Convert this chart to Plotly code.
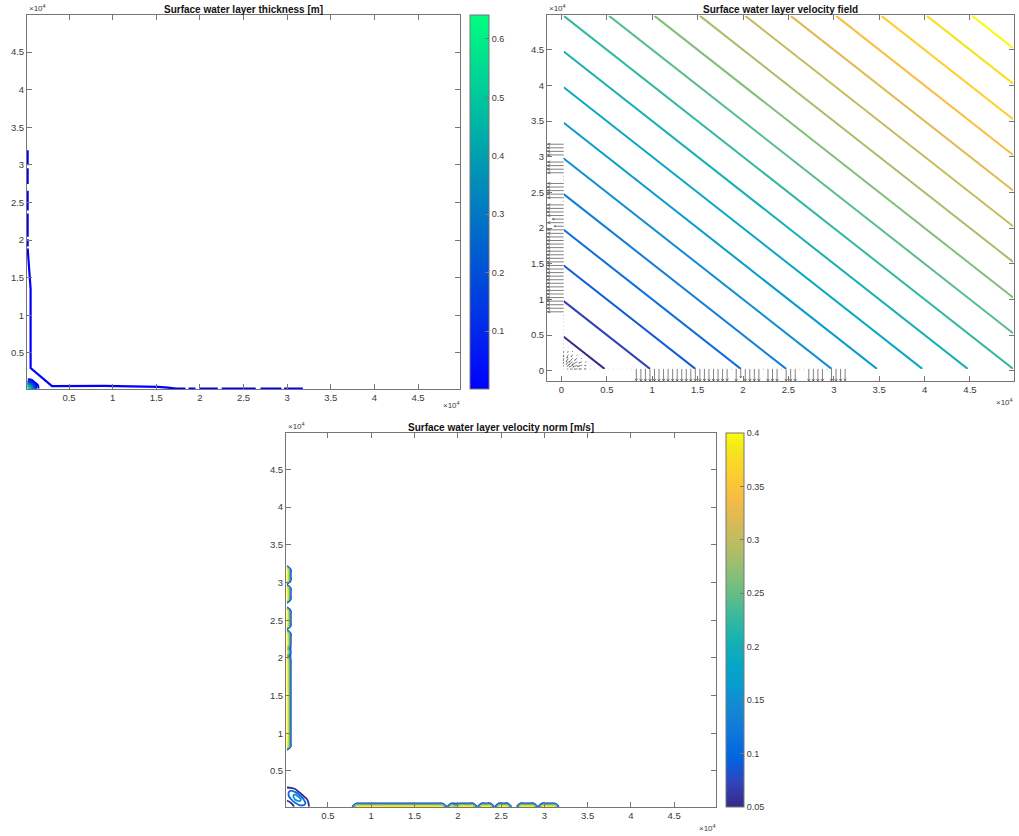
import numpy as np
import plotly.graph_objects as go
import plotly.figure_factory as ff
from plotly.colors import sample_colorscale

W, H = 1019, 836

# ---------------------------------------------------------------- data ----
# cell centres along the two outflow edges (m), starting past the corner block
edge_pos = list(range(3750, 33251, 500))

# outflow speed in the first column of cells (x = 250 m), m/s
left_speed = [0.01, 0.01, 0.01, 0.01, 0.01, 0.01, 0.01, 0.01, 0.015,
              0.43, 0.44, 0.44, 0.44, 0.45, 0.44, 0.44, 0.44, 0.44, 0.44,
              0.44, 0.44, 0.44, 0.44, 0.44, 0.44, 0.44, 0.43, 0.44, 0.44,
              0.44, 0.44, 0.43, 0.43,
              0.25, 0.43, 0.30, 0.43, 0.44, 0.44, 0.43, 0.02,
              0.43, 0.44, 0.44, 0.44, 0.43, 0.015, 0.015,
              0.43, 0.44, 0.44, 0.43, 0.02, 0.43, 0.44, 0.44, 0.43,
              0.0, 0.0, 0.0]

# outflow speed in the first row of cells (y = 250 m), m/s
bottom_speed = [0.01, 0.01, 0.01, 0.01, 0.01, 0.01, 0.01, 0.01, 0.015,
                0.40, 0.41, 0.41, 0.41, 0.41, 0.42, 0.41, 0.41, 0.41, 0.41,
                0.41, 0.41, 0.41, 0.41, 0.41, 0.41, 0.41, 0.41, 0.41, 0.41,
                0.40,
                0.02, 0.41, 0.30, 0.41, 0.41, 0.41, 0.41, 0.02,
                0.41, 0.41, 0.41, 0.02, 0.41, 0.41, 0.41, 0.015, 0.015,
                0.41, 0.41, 0.41, 0.41, 0.02, 0.41, 0.41, 0.41, 0.40,
                0.0, 0.0, 0.0, 0.0]

# speed in the outlet corner block (rows: y, columns: x), m/s
corner_pos = [250, 750, 1250, 1750, 2250, 2750, 3250]
corner_speed = [
    [0.01, 0.03, 0.06, 0.08, 0.08, 0.055, 0.01],
    [0.03, 0.05, 0.10, 0.13, 0.12, 0.05, 0.01],
    [0.06, 0.10, 0.16, 0.17, 0.09, 0.03, 0.0],
    [0.08, 0.13, 0.17, 0.10, 0.03, 0.0, 0.0],
    [0.08, 0.12, 0.09, 0.03, 0.0, 0.0, 0.0],
    [0.055, 0.05, 0.03, 0.0, 0.0, 0.0, 0.0],
    [0.01, 0.01, 0.0, 0.0, 0.0, 0.0, 0.0],
]

# ponded water depth at the outlet corner (m)
pond_pos = [250, 750, 1250, 1750]
pond_depth = [
    [0.64, 0.40, 0.07, 0.0],
    [0.40, 0.22, 0.05, 0.0],
    [0.07, 0.05, 0.0, 0.0],
    [0.0, 0.0, 0.0, 0.0],
]
pond_levels = dict(start=0.033, end=0.641, size=0.032)

# wetting front: the 0.001 m depth contour
front_level = 0.001
front_x = [260, 260, None, 260, 260, None, 260, 260, None, 260, 260, None,
           260, 260, None,
           260, 330, 460, 560, 600, 600, 3050, 9000, 14000, 15300, 16300,
           17300, 18350, None,
           18700, 19500, None, 19900, 22050, None, 22500, 26400, None,
           26950, 29350, None, 29650, 31800]
front_y = [31950, 29950, None, 29550, 27450, None, 26550, 23950, None,
           23550, 20450, None, 20100, 19150, None,
           18900, 17900, 16400, 15000, 13500, 3000, 600, 610, 570, 500, 380,
           270, 260, None,
           260, 260, None, 260, 260, None, 260, 260, None,
           260, 260, None, 260, 260]
depth_range = [0.001, 0.641]
depth_ticks = [0.1, 0.2, 0.3, 0.4, 0.5, 0.6]

# ground elevation at the domain corners (m)
terrain_x = [250, 49750]
terrain_y = [250, 49750]
terrain_z = [[500, 50000], [50000, 99500]]
terrain_levels = dict(start=5000, end=95000, size=5000)

speed_levels = dict(start=0.05, end=0.4, size=0.05)
speed_ticks = [0.05, 0.1, 0.15, 0.2, 0.25, 0.3, 0.35, 0.4]

axis_ticks = [5000, 10000, 15000, 20000, 25000, 30000, 35000, 40000, 45000]
axis_labels = ['0.5', '1', '1.5', '2', '2.5', '3', '3.5', '4', '4.5']
axis_ticks0 = [0] + axis_ticks
axis_labels0 = ['0'] + axis_labels

# ------------------------------------------------------------ colormaps ---
_parula_idx = [0, 4, 8, 12, 16, 20, 24, 28, 32, 36, 40, 44, 48, 52, 56, 60, 63]
_parula_rgb = [(0.2081, 0.1663, 0.5292), (0.1959, 0.2645, 0.7279),
               (0.0117, 0.3875, 0.8820), (0.0498, 0.4586, 0.8641),
               (0.0793, 0.5200, 0.8312), (0.0343, 0.5966, 0.8199),
               (0.0228, 0.6535, 0.7768), (0.0843, 0.6928, 0.7062),
               (0.2178, 0.7250, 0.6193), (0.3953, 0.7459, 0.5244),
               (0.5709, 0.7485, 0.4494), (0.7184, 0.7411, 0.3905),
               (0.8507, 0.7299, 0.3360), (0.9739, 0.7314, 0.2666),
               (0.9880, 0.8066, 0.1794), (0.9589, 0.8949, 0.1132),
               (0.9763, 0.9831, 0.0538)]
PARULA = [[i / 63, 'rgb({:.0f},{:.0f},{:.0f})'.format(r * 255, g * 255, b * 255)]
          for i, (r, g, b) in zip(_parula_idx, _parula_rgb)]
WINTER = [[0.0, 'rgb(0,0,255)'], [1.0, 'rgb(0,255,128)']]

FONT = 'Liberation Sans, Arial, Helvetica, sans-serif'
AX_COLOR = '#767676'
TXT_COLOR = '#3a3a3a'

# ------------------------------------------------------------- geometry ---
def px_x(a, b):
    return [a / W, b / W]


def px_y(top, bottom):
    return [1 - bottom / H, 1 - top / H]


fig = go.Figure()

# ---------------------------------------------------- panel 1: depth -------
front_color = sample_colorscale(
    WINTER, [(front_level - depth_range[0]) / (depth_range[1] - depth_range[0])])[0]
fig.add_trace(go.Scatter(x=front_x, y=front_y, mode='lines',
                         line=dict(color=front_color, width=2.2),
                         xaxis='x', yaxis='y', hoverinfo='skip',
                         showlegend=False, connectgaps=False))
fig.add_trace(go.Contour(x=pond_pos, y=pond_pos, z=pond_depth,
                         autocontour=False, contours=dict(coloring='lines', **pond_levels),
                         colorscale=WINTER, line=dict(width=2), showscale=False,
                         xaxis='x', yaxis='y', hoverinfo='skip'))
# continuous colour bar for the depth panel
fig.add_trace(go.Scatter(
    x=[-1e6, -1e6], y=[-1e6, -1e6], mode='markers', xaxis='x', yaxis='y',
    hoverinfo='skip', showlegend=False,
    marker=dict(size=1, opacity=0, color=depth_range, colorscale=WINTER,
                cmin=depth_range[0], cmax=depth_range[1], showscale=True,
                colorbar=dict(x=470 / W, xanchor='left', y=1 - 15 / H, yanchor='top',
                              len=374 / H, lenmode='fraction', thickness=19,
                              thicknessmode='pixels', xpad=0, ypad=0,
                              outlinewidth=1, outlinecolor=AX_COLOR,
                              ticks='inside', ticklen=4, tickcolor=AX_COLOR,
                              tickvals=depth_ticks,
                              ticktext=[f'{t:g}' for t in depth_ticks],
                              tickfont=dict(family=FONT, size=9, color=TXT_COLOR)))))

# ------------------------------------------- panel 2: velocity field -------
fig.add_trace(go.Contour(x=terrain_x, y=terrain_y, z=terrain_z,
                         autocontour=False, contours=dict(coloring='lines', **terrain_levels),
                         colorscale=PARULA, line=dict(width=2), showscale=False,
                         xaxis='x2', yaxis='y2', hoverinfo='skip'))

qx, qy, qu, qv = [], [], [], []
for y, s in zip(edge_pos, left_speed):
    if s > 0:
        qx.append(250); qy.append(y); qu.append(-s); qv.append(0.0)
for x, s in zip(edge_pos, bottom_speed):
    if s > 0:
        qx.append(x); qy.append(250); qu.append(0.0); qv.append(-s)
for j, y in enumerate(corner_pos):
    for i, x in enumerate(corner_pos):
        s = corner_speed[j][i]
        if s > 0:
            r = np.hypot(x, y)
            qx.append(x); qy.append(y); qu.append(-s * x / r); qv.append(-s * y / r)

quiver = ff.create_quiver(qx, qy, qu, qv, scale=4180, arrow_scale=0.2,
                          angle=np.pi / 7, line=dict(color='#4a4a4a', width=0.7))
for tr in quiver.data:
    tr.update(xaxis='x2', yaxis='y2', showlegend=False, hoverinfo='skip')
    fig.add_trace(tr)

# ------------------------------------------- panel 3: velocity norm --------
grid = [250 + 500 * k for k in range(67)]
speed = np.zeros((len(grid), len(grid)))
speed[7:, 0] = left_speed
speed[0, 7:] = bottom_speed
speed[:7, :7] = np.array(corner_speed)

fig.add_trace(go.Contour(x=grid, y=grid, z=speed, autocontour=False,
                         contours=dict(coloring='lines', **speed_levels),
                         colorscale=PARULA, line=dict(width=1.8), showscale=False,
                         xaxis='x3', yaxis='y3', hoverinfo='skip'))
fig.add_trace(go.Scatter(
    x=[-1e6, -1e6], y=[-1e6, -1e6], mode='markers', xaxis='x3', yaxis='y3',
    hoverinfo='skip', showlegend=False,
    marker=dict(size=1, opacity=0, color=[0.05, 0.4], colorscale=PARULA,
                cmin=0.05, cmax=0.4, showscale=True,
                colorbar=dict(x=726 / W, xanchor='left', y=1 - 433 / H, yanchor='top',
                              len=374 / H, lenmode='fraction', thickness=18,
                              thicknessmode='pixels', xpad=0, ypad=0,
                              outlinewidth=1, outlinecolor=AX_COLOR,
                              ticks='inside', ticklen=4, tickcolor=AX_COLOR,
                              tickvals=speed_ticks,
                              ticktext=[f'{t:g}' for t in speed_ticks],
                              tickfont=dict(family=FONT, size=9, color=TXT_COLOR)))))

# --------------------------------------------------------------- axes ------
def axis(domain, rng, vals, labels, anchor):
    return dict(domain=domain, range=rng, anchor=anchor, tickvals=vals, ticktext=labels,
                showgrid=False, zeroline=False, showline=True, linecolor=AX_COLOR,
                linewidth=1, mirror='allticks', ticks='inside', ticklen=5,
                tickcolor=AX_COLOR, tickfont=dict(family=FONT, size=9.5, color=TXT_COLOR),
                fixedrange=True)


fig.update_layout(
    width=W, height=H, margin=dict(l=0, r=0, t=0, b=0),
    paper_bgcolor='white', plot_bgcolor='white', showlegend=False,
    xaxis=axis(px_x(27, 460), [186, 49813], axis_ticks, axis_labels, 'y'),
    yaxis=axis(px_y(15, 389), [206, 49927], axis_ticks, axis_labels, 'x'),
    xaxis2=axis(px_x(547, 1014), [-1590, 49850], axis_ticks0, axis_labels0, 'y2'),
    yaxis2=axis(px_y(15, 381), [-1450, 49870], axis_ticks0, axis_labels0, 'x2'),
    xaxis3=axis(px_x(286, 716), [150, 49830], axis_ticks, axis_labels, 'y3'),
    yaxis3=axis(px_y(433, 807), [220, 49830], axis_ticks, axis_labels, 'x3'),
)

annotations = []


def note(text, x, y, xanchor='center', size=9, bold=False, color=TXT_COLOR):
    annotations.append(dict(
        text=f'<b>{text}</b>' if bold else text, x=x / W, y=1 - y / H,
        xref='paper', yref='paper', xanchor=xanchor, yanchor='middle',
        showarrow=False, font=dict(family=FONT, size=size, color=color)))


note('Surface water layer thickness [m]', 243.5, 9.5, size=10, bold=True, color='#111111')
note('Surface water layer velocity field', 780.5, 9.5, size=10, bold=True, color='#111111')
note('Surface water layer velocity norm [m/s]', 501, 427, size=10, bold=True, color='#111111')

exp = '\u00d710<sup>4</sup>'
note(exp, 27, 8, xanchor='left', size=8)
note(exp, 462, 405, xanchor='right', size=8)
note(exp, 547, 8, xanchor='left', size=8)
note(exp, 1015, 402, xanchor='right', size=8)
note(exp, 286, 426, xanchor='left', size=8)
note(exp, 718, 828, xanchor='right', size=8)

fig.update_layout(annotations=annotations)

fig.write_html('out.html')
